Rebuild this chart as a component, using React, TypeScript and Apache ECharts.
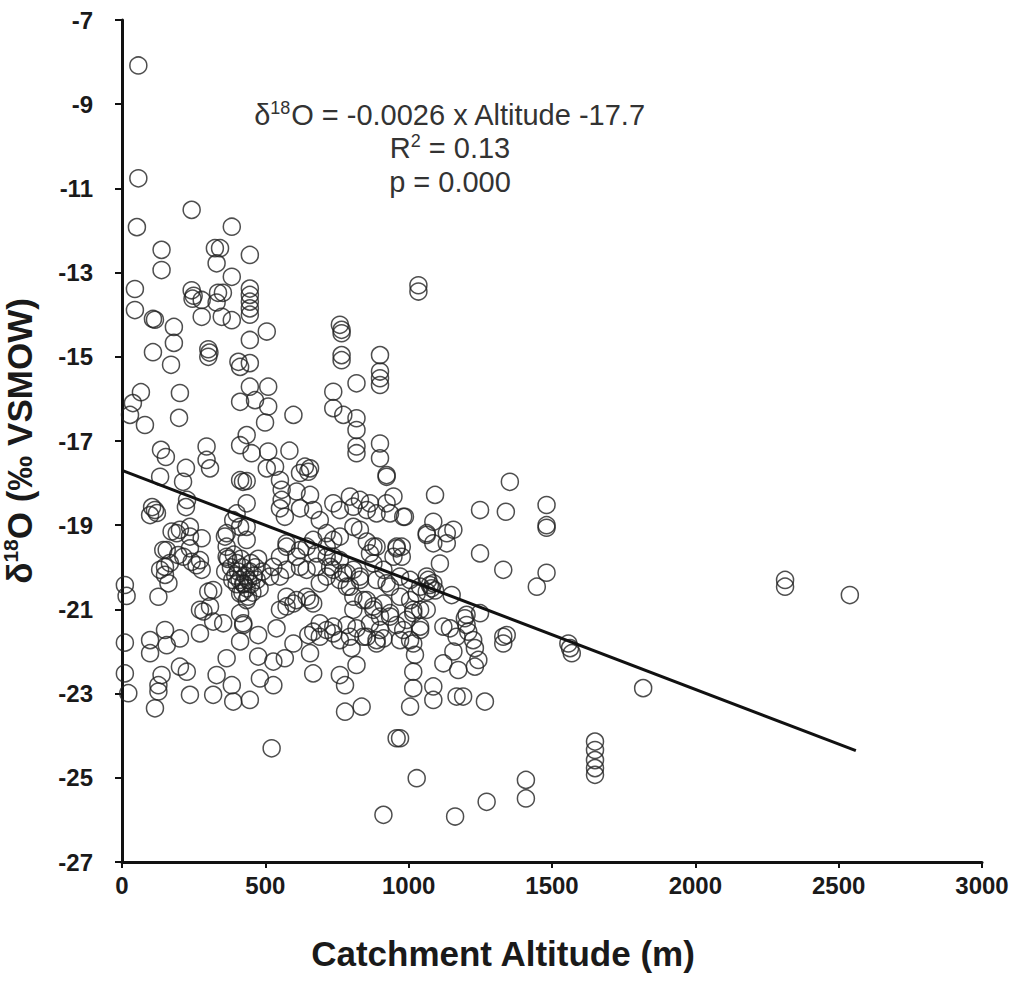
import React, { useEffect, useRef } from "react";
import * as echarts from "echarts";

// Catchment altitude (m) vs. stream-water δ18O (‰ VSMOW), grouped by altitude band
const lowlandSites: [number, number][] = [
  [57, -8.08], [57, -10.76], [52, -11.92], [243, -11.51], [138, -12.46], [138, -12.94],
  [324, -12.42], [342, -12.42], [330, -12.78], [45, -13.39], [45, -13.89], [108, -14.1],
  [115, -14.12], [181, -14.29], [181, -14.67], [108, -14.89], [171, -15.19], [243, -13.42],
  [250, -13.55], [246, -13.62], [278, -13.65], [278, -14.05], [335, -13.48], [330, -13.71],
  [348, -14.05], [301, -14.82], [305, -14.9], [301, -15.0], [66, -15.84], [38, -16.1],
  [28, -16.38], [80, -16.62], [202, -15.86], [199, -16.45], [136, -17.21], [153, -17.38],
  [133, -17.85], [223, -17.64], [213, -17.97], [295, -17.13], [295, -17.45], [307, -17.65],
  [115, -18.64], [105, -18.57], [122, -18.71], [98, -18.76], [227, -18.4], [223, -18.57],
  [202, -19.11], [237, -19.04], [237, -19.27], [173, -19.15], [278, -19.31], [156, -19.59],
  [150, -19.99], [167, -19.9], [133, -20.06], [243, -19.87], [260, -19.95], [272, -19.83],
  [196, -19.71], [237, -19.55], [278, -20.06], [162, -20.38], [127, -20.7], [10, -20.42],
  [16, -20.68], [301, -20.58], [307, -20.93], [284, -21.05], [150, -20.18], [272, -21.01],
  [318, -21.29], [10, -21.79], [98, -21.73], [98, -22.04], [150, -21.49], [156, -21.85],
  [202, -21.69], [272, -21.57], [10, -22.52], [22, -22.99], [138, -22.56], [127, -22.95],
  [115, -23.35], [127, -22.8], [202, -22.36], [226, -22.48], [237, -23.03], [330, -22.56],
  [318, -23.03], [191, -19.19], [144, -19.59], [214, -19.75], [318, -20.54],
];

const midlandSites: [number, number][] = [
  [352, -13.48], [383, -11.91], [383, -13.1], [446, -12.58], [446, -13.38], [446, -13.53],
  [446, -13.69], [446, -13.85], [446, -14.0], [383, -14.13], [505, -14.4], [446, -14.6],
  [406, -15.12], [412, -15.24], [446, -15.15], [446, -15.71], [510, -15.71], [412, -16.07],
  [464, -16.03], [510, -16.18], [499, -16.56], [598, -16.38], [435, -16.86], [412, -17.1],
  [452, -17.29], [510, -17.25], [584, -17.23], [638, -17.61], [656, -17.65], [505, -17.65],
  [534, -17.61], [412, -17.93], [422, -17.97], [435, -17.95], [551, -17.93], [557, -18.16],
  [557, -18.4], [551, -18.6], [568, -18.8], [609, -18.2], [621, -18.6], [656, -18.28],
  [667, -18.64], [690, -18.88], [621, -17.76], [650, -17.73], [435, -18.48], [737, -18.48],
  [760, -18.64], [795, -18.32], [807, -18.56], [830, -18.4], [854, -18.64], [865, -18.48],
  [888, -18.72], [923, -18.48], [935, -18.72], [947, -18.32], [981, -18.8], [923, -17.85],
  [760, -14.24], [766, -14.36], [766, -14.44], [766, -14.96], [766, -15.08], [818, -15.63],
  [900, -14.96], [900, -15.35], [900, -15.51], [900, -15.67], [737, -15.83], [737, -16.22],
  [772, -16.38], [818, -16.46], [818, -16.74], [818, -17.13], [818, -17.29], [900, -17.06],
  [900, -17.41], [923, -17.81], [807, -19.04], [830, -19.11], [714, -19.19], [737, -19.35],
  [760, -19.27], [854, -19.39], [877, -19.51], [958, -19.51], [644, -19.51], [679, -19.67],
  [714, -19.75], [726, -19.99], [574, -19.51], [609, -19.75], [621, -19.99], [644, -20.06],
  [551, -19.75], [528, -19.99], [551, -20.22], [574, -20.06], [516, -20.22], [365, -19.19],
  [388, -18.88], [435, -19.04], [435, -19.35], [365, -19.51], [400, -18.72], [412, -20.62],
  [435, -20.78], [574, -20.7], [598, -20.86], [644, -20.7], [667, -20.86], [690, -20.38],
  [714, -20.22], [737, -20.06], [760, -20.3], [784, -20.46], [807, -20.06], [830, -20.22],
  [807, -20.7], [842, -20.78], [877, -19.91], [912, -20.06], [935, -20.46], [947, -19.75],
  [970, -20.22], [865, -19.67], [888, -19.51],
  [370, -19.8], [380, -20.0], [390, -19.7], [395, -20.2], [400, -19.9], [405, -20.1],
  [410, -20.3], [415, -19.8], [420, -20.0], [425, -20.4], [430, -20.2], [435, -20.5],
  [440, -20.3], [445, -20.1], [450, -20.4], [455, -20.6], [460, -20.2], [465, -20.0],
  [470, -20.3], [475, -19.8], [480, -20.5], [440, -20.7], [420, -20.6], [400, -20.4],
  [385, -20.3], [360, -20.1], [450, -19.9], [490, -20.1],
  [353, -21.33], [412, -21.76], [423, -21.37], [365, -22.16], [388, -23.19], [446, -23.15],
  [383, -22.8], [475, -22.12], [481, -22.64], [528, -22.24], [528, -22.8], [568, -22.16],
  [475, -21.61], [539, -21.45], [522, -24.3], [598, -21.81], [656, -22.04], [667, -22.52],
  [650, -21.61], [667, -21.53], [690, -21.65], [714, -21.49], [737, -21.57], [760, -22.56],
  [778, -22.8], [778, -23.43], [836, -23.31], [818, -22.32], [801, -21.92], [912, -25.88],
  [958, -24.06], [970, -24.06], [551, -21.01], [574, -20.93], [609, -20.78], [412, -21.09],
  [423, -21.33], [423, -20.38], [760, -21.73], [784, -21.37], [818, -21.45], [842, -21.65],
  [888, -21.81], [912, -21.69], [807, -21.01], [854, -20.78], [877, -21.01], [912, -20.86],
  [935, -21.17], [970, -20.7], [993, -21.25], [830, -20.3], [888, -20.3], [784, -20.14],
  [958, -19.55], [923, -20.38], [877, -20.93], [900, -21.17], [865, -21.33], [900, -21.49],
  [795, -20.46], [772, -20.14], [760, -19.83], [679, -19.99], [656, -20.78], [690, -21.33],
  [737, -21.41], [795, -21.65], [854, -21.65], [888, -21.73], [970, -21.73], [935, -21.09],
  [958, -21.37], [981, -21.49], [574, -19.43], [621, -19.59], [667, -19.35], [714, -19.51],
  [737, -19.75], [359, -19.27], [412, -19.04], [365, -19.75], [976, -19.75], [987, -18.8],
  [976, -19.51],
];

const uplandSites: [number, number][] = [
  [1034, -13.3], [1034, -13.45], [1353, -17.97], [1092, -18.28], [1249, -18.64], [1339, -18.68],
  [1481, -18.52], [1481, -19.0], [1481, -19.06], [1086, -18.92], [1063, -19.23], [1086, -19.43],
  [1133, -19.19], [1156, -19.11], [1133, -19.43], [1063, -19.19], [1249, -19.67], [1330, -20.06],
  [1481, -20.13], [1447, -20.46], [1109, -19.91], [1068, -20.3], [1074, -20.42], [1080, -20.5],
  [1086, -20.38], [1063, -20.58], [1092, -20.55], [1150, -20.66], [1063, -21.01], [1202, -21.13],
  [1249, -21.09], [1196, -21.21], [1202, -21.37], [1208, -21.53], [1225, -21.73], [1231, -21.92],
  [1243, -22.2], [1231, -22.36], [1121, -21.41], [1040, -21.41], [1016, -21.09], [1005, -20.78],
  [1040, -21.01], [1040, -20.46], [1063, -20.22], [1005, -20.3], [1028, -20.62], [1016, -21.01],
  [1005, -21.73], [1016, -21.81], [1040, -21.49], [1144, -21.45], [1167, -21.65], [1156, -22.0],
  [1121, -22.28], [1173, -22.44], [1330, -21.65], [1342, -21.61], [1330, -21.81], [1557, -21.81],
  [1563, -21.92], [1569, -22.04], [1818, -22.87], [1650, -24.14], [1650, -24.34], [1650, -24.58],
  [1650, -24.77], [1650, -24.93], [1016, -22.48], [1016, -22.87], [1005, -23.31], [1022, -22.08],
  [1086, -22.83], [1086, -23.15], [1167, -23.07], [1190, -23.07], [1266, -23.19], [1028, -25.01],
  [1162, -25.92], [1272, -25.57], [1409, -25.05], [1409, -25.49], [2313, -20.3], [2313, -20.46],
  [2539, -20.66],
];

// Linear fit: δ18O = slope × altitude + intercept
const fitSlope = -0.0026;
const fitIntercept = -17.7;
const fitRange = [0, 2560];

const xTicks = [0, 500, 1000, 1500, 2000, 2500, 3000];
const yTicks = [-27, -25, -23, -21, -19, -17, -15, -13, -11, -9, -7];

const fitText = ["R", "2", " = 0.13"];
const pText = "p = 0.000";

const FONT = "'Liberation Sans', Arial, Helvetica, sans-serif";
const INK = "#1a1a1a";

const noteRich = {
  a: { fontFamily: FONT, fontSize: 29, fill: "#333", lineHeight: 33 },
  s: { fontFamily: FONT, fontSize: 18, fill: "#333", verticalAlign: "top", lineHeight: 33 },
};

export default function App() {
  const ref = useRef<HTMLDivElement>(null);

  useEffect(() => {
    if (!ref.current) return;
    const chart = echarts.init(ref.current, undefined, { renderer: "svg" });

    const sites = [...lowlandSites, ...midlandSites, ...uplandSites];
    const fitLine = fitRange.map((x) => [x, fitSlope * x + fitIntercept]);

    chart.setOption({
      animation: false,
      backgroundColor: "#ffffff",
      grid: {
        left: 122, top: 20, right: 41, bottom: 126,
        containLabel: false, outerBoundsMode: "none",
      },
      xAxis: {
        type: "value",
        min: xTicks[0],
        max: xTicks[xTicks.length - 1],
        interval: 500,
        name: "Catchment Altitude (m)",
        nameLocation: "middle",
        nameGap: 74,
        nameTextStyle: {
          fontFamily: FONT, fontWeight: "bold", fontSize: 35, color: INK,
          padding: [0, 98, 0, 0],
        },
        axisLine: { show: true, lineStyle: { color: "#111", width: 3 } },
        axisTick: { show: true, inside: false, length: 6, lineStyle: { color: "#111", width: 2 } },
        axisLabel: {
          fontFamily: FONT, fontWeight: "bold", fontSize: 24, color: INK, margin: 11,
          formatter: (v: number) => String(v),
        },
        splitLine: { show: false },
      },
      yAxis: {
        type: "value",
        min: yTicks[0],
        max: yTicks[yTicks.length - 1],
        name: "{a|δ}{s|18}{a|O (‰ VSMOW)}",
        nameLocation: "middle",
        nameRotate: 90,
        nameGap: 84,
        nameTextStyle: {
          rich: {
            a: { fontFamily: FONT, fontWeight: "bold", fontSize: 35, color: INK, lineHeight: 38 },
            s: { fontFamily: FONT, fontWeight: "bold", fontSize: 21, color: INK, verticalAlign: "top", lineHeight: 38 },
          },
        },
        axisLine: { show: true, lineStyle: { color: "#111", width: 3 } },
        axisTick: { show: true, inside: false, length: 7, lineStyle: { color: "#111", width: 2 }, customValues: yTicks },
        axisLabel: {
          fontFamily: FONT, fontWeight: "bold", fontSize: 24, color: INK, margin: 29,
          customValues: yTicks,
          formatter: (v: number) => String(v),
        },
        splitLine: { show: false },
      },
      series: [
        {
          type: "scatter",
          data: sites,
          symbol: "circle",
          symbolSize: 17,
          itemStyle: { color: "rgba(0,0,0,0)", borderColor: "#222", borderWidth: 1.5 },
          z: 2,
        },
        {
          type: "line",
          data: fitLine,
          symbol: "none",
          lineStyle: { color: "#111", width: 3 },
          z: 3,
        },
      ],
      graphic: [
        {
          type: "text",
          x: 450,
          y: 115,
          style: {
            text: "{a|δ}{s|18}{a|O = -0.0026 x Altitude -17.7}",
            align: "center",
            verticalAlign: "middle",
            rich: noteRich,
          },
        },
        {
          type: "text",
          x: 450,
          y: 148,
          style: {
            text: `{a|${fitText[0]}}{s|${fitText[1]}}{a|${fitText[2]}}`,
            align: "center",
            verticalAlign: "middle",
            rich: noteRich,
          },
        },
        {
          type: "text",
          x: 450,
          y: 182,
          style: {
            text: pText,
            align: "center",
            verticalAlign: "middle",
            fontFamily: FONT,
            fontSize: 29,
            fill: "#333",
          },
        },
      ],
    });

    return () => chart.dispose();
  }, []);

  return (
    <div
      ref={ref}
      style={{ position: "fixed", left: 0, top: 0, width: 1023, height: 988, background: "#fff" }}
    />
  );
}
